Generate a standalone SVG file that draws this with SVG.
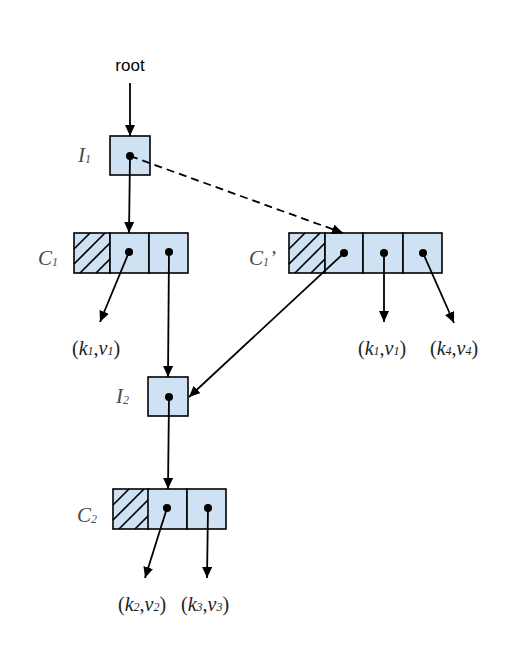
<svg xmlns="http://www.w3.org/2000/svg" xmlns:xlink="http://www.w3.org/1999/xlink" width="522" height="645" viewBox="0 0 522 645">
<style>
.cell{fill:#cfe2f3;stroke:#000;stroke-width:1.6}
.hatch{stroke:#000;stroke-width:1.7}
.dot{fill:#000}
.conn{stroke:#000;stroke-width:1.8;fill:none}
.dash{stroke-dasharray:8 5}
.lbl{font-family:"Liberation Serif","Times New Roman",serif;font-style:italic;font-size:21px;fill:#4a4a4a}
.kv{font-family:"Liberation Serif","Times New Roman",serif;font-size:20px;fill:#222}
.it{font-style:italic}
.sub{font-size:12px;font-style:italic}
.root{font-family:"Liberation Sans",Arial,sans-serif;font-size:17px;fill:#000}
</style>
<defs>
<marker id="arr" markerUnits="userSpaceOnUse" markerWidth="12" markerHeight="10" refX="11" refY="5" orient="auto">
<path d="M0,0 L11,5 L0,10 Z" fill="#000"/>
</marker>
<g id="hatched">
<rect class="cell" x="0" y="0" width="36" height="40"/>
<line class="hatch" x1="0" y1="16" x2="16" y2="0"/>
<line class="hatch" x1="0" y1="31" x2="31" y2="0"/>
<line class="hatch" x1="6" y1="40" x2="36" y2="10"/>
<line class="hatch" x1="22" y1="40" x2="36" y2="26"/>
</g>
</defs>

<text class="root" x="130" y="71" text-anchor="middle">root</text>

<g id="I1">
<rect class="cell" x="110" y="136" width="40" height="39"/>
<text class="lbl" x="78" y="162">I<tspan class="sub" dy="1">1</tspan></text>
</g>

<g id="C1">
<use xlink:href="#hatched" x="74" y="233"/>
<rect class="cell" x="110" y="233" width="39" height="40"/>
<rect class="cell" x="149" y="233" width="39" height="40"/>
<text class="lbl" x="38" y="265">C<tspan class="sub" dy="1">1</tspan></text>
</g>

<g id="C1p">
<use xlink:href="#hatched" x="289" y="233"/>
<rect class="cell" x="325" y="233" width="38" height="40"/>
<rect class="cell" x="363" y="233" width="40" height="40"/>
<rect class="cell" x="403" y="233" width="39" height="40"/>
<text class="lbl" x="249" y="265">C<tspan class="sub" dy="1">1</tspan><tspan dy="-1">’</tspan></text>
</g>

<g id="I2">
<rect class="cell" x="148" y="377" width="40" height="39"/>
<text class="lbl" x="116" y="403">I<tspan class="sub" dy="1">2</tspan></text>
</g>

<g id="C2">
<use xlink:href="#hatched" x="113" y="489"/>
<rect class="cell" x="148" y="489" width="39" height="40"/>
<rect class="cell" x="187" y="489" width="39" height="40"/>
<text class="lbl" x="77" y="522">C<tspan class="sub" dy="1">2</tspan></text>
</g>

<g id="leaves">
<text class="kv" x="72" y="355">(<tspan class="it">k</tspan><tspan class="sub">1</tspan>,<tspan class="it">v</tspan><tspan class="sub">1</tspan>)</text>
<text class="kv" x="358" y="355">(<tspan class="it">k</tspan><tspan class="sub">1</tspan>,<tspan class="it">v</tspan><tspan class="sub">1</tspan>)</text>
<text class="kv" x="430" y="355">(<tspan class="it">k</tspan><tspan class="sub">4</tspan>,<tspan class="it">v</tspan><tspan class="sub">4</tspan>)</text>
<text class="kv" x="118" y="611">(<tspan class="it">k</tspan><tspan class="sub">2</tspan>,<tspan class="it">v</tspan><tspan class="sub">2</tspan>)</text>
<text class="kv" x="181" y="611">(<tspan class="it">k</tspan><tspan class="sub">3</tspan>,<tspan class="it">v</tspan><tspan class="sub">3</tspan>)</text>
</g>

<g id="connectors">
<line class="conn" x1="130" y1="83" x2="130" y2="136" marker-end="url(#arr)"/>
<line class="conn" x1="130" y1="156" x2="129" y2="233" marker-end="url(#arr)"/>
<line class="conn dash" x1="130" y1="156" x2="343" y2="233" marker-end="url(#arr)"/>
<line class="conn" x1="129" y1="252" x2="100" y2="322" marker-end="url(#arr)"/>
<line class="conn" x1="169" y1="252" x2="168" y2="377" marker-end="url(#arr)"/>
<line class="conn" x1="344" y1="253" x2="189" y2="397" marker-end="url(#arr)"/>
<line class="conn" x1="384" y1="253" x2="384" y2="322" marker-end="url(#arr)"/>
<line class="conn" x1="423" y1="253" x2="454" y2="323" marker-end="url(#arr)"/>
<line class="conn" x1="169" y1="397" x2="168" y2="489" marker-end="url(#arr)"/>
<line class="conn" x1="167" y1="508" x2="145" y2="578" marker-end="url(#arr)"/>
<line class="conn" x1="208" y1="508" x2="207" y2="578" marker-end="url(#arr)"/>
</g>

<g id="dots">
<circle class="dot" cx="130" cy="156" r="4"/>
<circle class="dot" cx="129" cy="252" r="4"/>
<circle class="dot" cx="169" cy="252" r="4"/>
<circle class="dot" cx="344" cy="253" r="4"/>
<circle class="dot" cx="384" cy="253" r="4"/>
<circle class="dot" cx="423" cy="253" r="4"/>
<circle class="dot" cx="169" cy="397" r="4"/>
<circle class="dot" cx="167" cy="508" r="4"/>
<circle class="dot" cx="208" cy="508" r="4"/>
</g>
</svg>
